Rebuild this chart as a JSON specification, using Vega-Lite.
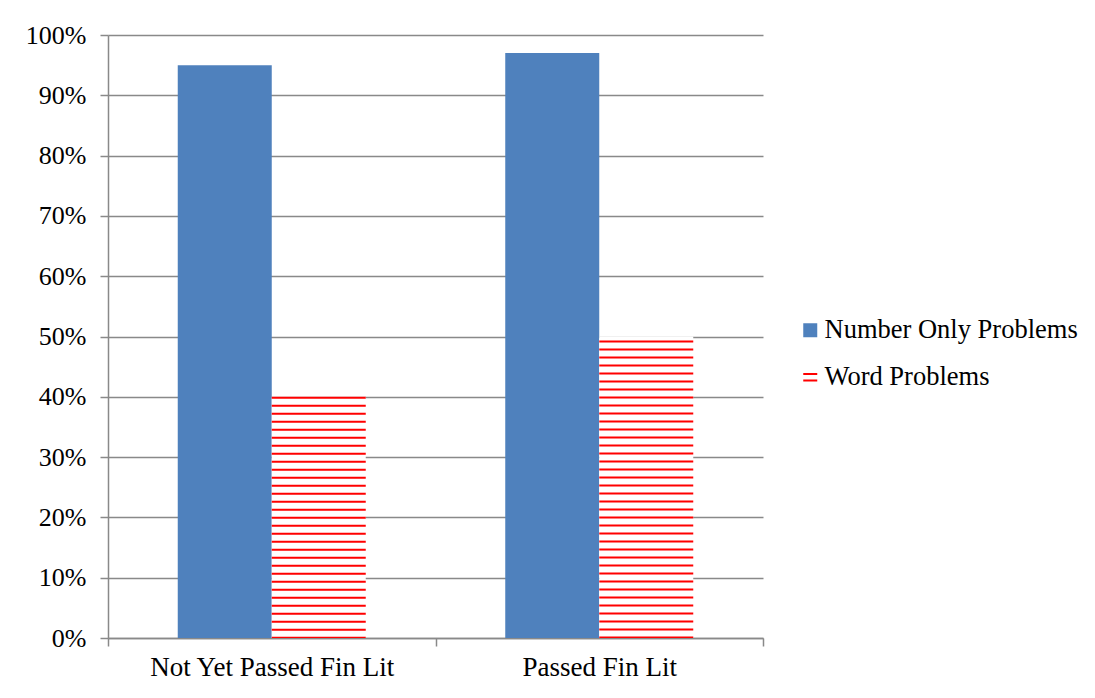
{
  "$schema": "https://vega.github.io/schema/vega-lite/v6.json",
  "width": 655,
  "height": 603,
  "autosize": {"type": "none"},
  "padding": {"left": 108, "top": 35, "right": 332, "bottom": 60},
  "background": "white",
  "config": {
    "view": {"stroke": null},
    "font": "Liberation Serif",
    "axis": {"labelFont": "Liberation Serif", "labelColor": "black", "labelLimit": 0, "domainColor": "#898989", "tickColor": "#898989", "gridColor": "#898989", "domainWidth": 1.5, "tickWidth": 1.5, "gridWidth": 1.5}
  },
  "data": {
    "values": [
      {"group": "Not Yet Passed Fin Lit", "series": "Number Only Problems", "value": 0.95},
      {"group": "Not Yet Passed Fin Lit", "series": "Word Problems", "value": 0.40},
      {"group": "Passed Fin Lit", "series": "Number Only Problems", "value": 0.97},
      {"group": "Passed Fin Lit", "series": "Word Problems", "value": 0.50}
    ]
  },
  "encoding": {
    "x": {
      "field": "group", "type": "nominal", "sort": null,
      "scale": {"paddingInner": 0, "paddingOuter": 0},
      "axis": {"title": null, "labelAngle": 0, "labelFontSize": 27, "tickBand": "extent", "tickSize": 8, "labelPadding": 8, "grid": false}
    },
    "xOffset": {
      "field": "series", "type": "nominal", "sort": ["Number Only Problems", "Word Problems"],
      "scale": {"paddingInner": 0, "paddingOuter": 0.742}
    },
    "y": {
      "field": "value", "type": "quantitative",
      "scale": {"domain": [0, 1], "nice": false},
      "axis": {"title": null, "format": ".0%", "values": [0, 0.1, 0.2, 0.3, 0.4, 0.5, 0.6, 0.7, 0.8, 0.9, 1], "labelFontSize": 26, "tickSize": 8, "labelPadding": 14, "grid": true, "gridCap": "butt"}
    }
  },
  "layer": [
    {
      "mark": {"type": "bar"},
      "encoding": {
        "color": {
          "condition": {"test": "datum.series === 'Word Problems'", "value": "white"},
          "field": "series", "type": "nominal",
          "scale": {"domain": ["Number Only Problems", "Word Problems"], "range": ["#4F81BD", "#FF0000"]},
          "legend": {
            "title": null, "orient": "none", "legendX": 689, "legendY": 282,
            "padding": 0,
            "labelFont": "Liberation Serif", "labelFontSize": 26.5, "labelColor": "black", "labelLimit": 0,
            "labelOffset": 1, "symbolSize": 196, "symbolType": "square", "rowPadding": 20,
            "symbolStrokeWidth": 2,
            "encode": {
              "symbols": {
                "update": {
                  "shape": {"signal": "datum.value === 'Word Problems' ? 'M-1,-0.46H1M-1,0.46H1' : 'square'"},
                  "stroke": {"signal": "datum.value === 'Word Problems' ? '#FF0000' : 'transparent'"},
                  "fill": {"signal": "datum.value === 'Word Problems' ? 'transparent' : '#4F81BD'"},
                  "strokeWidth": {"value": 2}
                }
              }
            }
          }
        }
      }
    },
    {
      "transform": [{"filter": "datum.series === 'Word Problems' && datum.group === 'Not Yet Passed Fin Lit'"}],
      "mark": {"type": "rule", "color": "#FF0000", "strokeWidth": 94, "strokeCap": "butt", "strokeDash": [2, 6], "strokeDashOffset": 0},
      "encoding": {"y2": {"datum": 0}}
    },
    {
      "transform": [{"filter": "datum.series === 'Word Problems' && datum.group === 'Passed Fin Lit'"}],
      "mark": {"type": "rule", "color": "#FF0000", "strokeWidth": 94, "strokeCap": "butt", "strokeDash": [2, 6], "strokeDashOffset": 4},
      "encoding": {"y2": {"datum": 0}}
    }
  ]
}
